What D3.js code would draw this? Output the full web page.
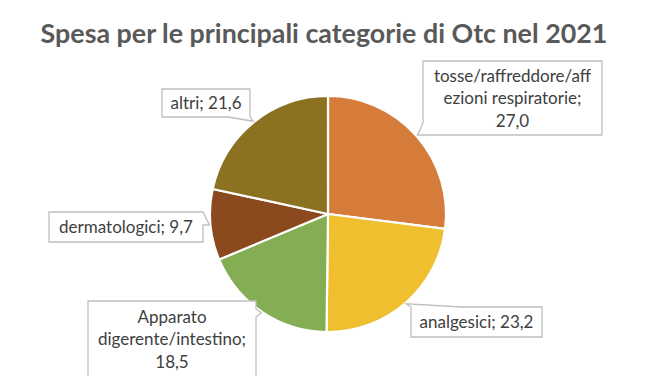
<!DOCTYPE html>
<html>
<head>
<meta charset="utf-8">
<script src="https://cdn.jsdelivr.net/npm/d3@7"></script>
<style>
  html, body { margin: 0; padding: 0; background: #fff; }
  svg { display: block; }
</style>
</head>
<body>
<svg id="chart" width="662" height="376"></svg>
<script>
// ---- data ----
const title = "Spesa per le principali categorie di Otc nel 2021";
const categoryLines = [
  ["tosse/raffreddore/aff", "ezioni respiratorie;"],
  ["analgesici;"],
  ["Apparato", "digerente/intestino;"],
  ["dermatologici;"],
  ["altri;"]
];
const values = [27.0, 23.2, 18.5, 9.7, 21.6];
const colors = ["#D57C3A", "#F0BF30", "#85AD53", "#8B4A1D", "#8A7220"];

// ---- layout (positions of callout boxes) ----
const layout = [
  { x: 423, y: 61,  w: 179, h: 74, side: "left",   b0: 123, b1: 135, inline: false },
  { x: 411, y: 307, w: 131, h: 30, side: "top",    b0: 411, b1: 462, inline: true },
  { x: 88,  y: 301, w: 168, h: 90, side: "right",  b0: 309, b1: 317, inline: false },
  { x: 49,  y: 212, w: 154, h: 30, side: "right",  b0: 212, b1: 225, inline: true },
  { x: 162, y: 89,  w: 88,  h: 28, side: "bottom", b0: 228, b1: 250, inline: true }
];

const svg = d3.select("#chart");
const cx = 328, cy = 214, r = 118;
const fmt = v => d3.format(".1f")(v).replace(".", ",");

// title
const t = svg.append("text")
  .attr("x", 324).attr("y", 43)
  .attr("text-anchor", "middle")
  .attr("font-family", "Lato, 'Open Sans', sans-serif")
  .attr("font-weight", "bold")
  .attr("font-size", 24)
  .attr("fill", "#595959")
  .text(title);
const tw = t.node().getComputedTextLength();
t.attr("font-size", 24 * 567 / tw);

// pie
const pie = d3.pie().sort(null).value(d => d)(values);
const arc = d3.arc().innerRadius(0).outerRadius(r);
const edgeArc = d3.arc().innerRadius(r).outerRadius(r);
const g = svg.append("g").attr("transform", `translate(${cx},${cy})`);
g.selectAll("path.slice").data(pie).join("path")
  .attr("class", "slice")
  .attr("d", arc)
  .attr("fill", (d, i) => colors[i])
  .attr("stroke", "#fff")
  .attr("stroke-width", 2.2)
  .attr("stroke-linejoin", "round");

// callouts
function calloutPath(L, tip) {
  const x0 = L.x, y0 = L.y, x1 = L.x + L.w, y1 = L.y + L.h;
  const p = [];
  if (L.side === "top") {
    p.push([x0, y0]);
    p.push([tip[0], tip[1]]);
    p.push([L.b1, y0]);
    p.push([x1, y0], [x1, y1], [x0, y1]);
  } else if (L.side === "left") {
    p.push([x0, y0], [x1, y0], [x1, y1], [x0, y1]);
    p.push([tip[0], tip[1]]);
    p.push([x0, L.b0]);
  } else if (L.side === "right") {
    p.push([x0, y0], [x1, y0]);
    if (L.b0 > y0) p.push([x1, L.b0]);
    p.push([tip[0], tip[1]]);
    p.push([x1, L.b1], [x1, y1], [x0, y1]);
  } else if (L.side === "bottom") {
    p.push([x0, y0], [x1, y0], [x1, y1]);
    p.push([tip[0], tip[1]]);
    p.push([L.b0, y1], [x0, y1]);
  }
  return "M" + p.map(q => q.join(",")).join("L") + "Z";
}

const fontSize = 17;
const lineH = 22.7;
pie.forEach((d, i) => {
  const L = layout[i];
  const c = edgeArc.centroid(d);
  const tip = [cx + c[0] * 1.01, cy + c[1] * 1.01];
  svg.append("path")
    .attr("d", calloutPath(L, tip))
    .attr("fill", "#fff")
    .attr("stroke", "#BFBFBF")
    .attr("stroke-width", 1.3);
  let lines = categoryLines[i].slice();
  if (L.inline) {
    lines[lines.length - 1] = lines[lines.length - 1] + " " + fmt(values[i]);
  } else {
    lines.push(fmt(values[i]));
  }
  const n = lines.length;
  const midY = L.side === "right" && n === 3 ? 0 : 0;
  const firstBase = (n === 1) ? L.y + L.h / 2 + fontSize * 0.35
                  : (i === 2 ? 322.5 : L.y + 20.5);
  const txt = svg.append("text")
    .attr("text-anchor", "middle")
    .attr("font-family", "Lato, 'Open Sans', sans-serif")
    .attr("font-size", fontSize)
    .attr("fill", "#404040");
  lines.forEach((s, k) => {
    txt.append("tspan")
      .attr("x", L.x + L.w / 2)
      .attr("y", firstBase + k * lineH)
      .text(s);
  });
});
</script>
</body>
</html>
